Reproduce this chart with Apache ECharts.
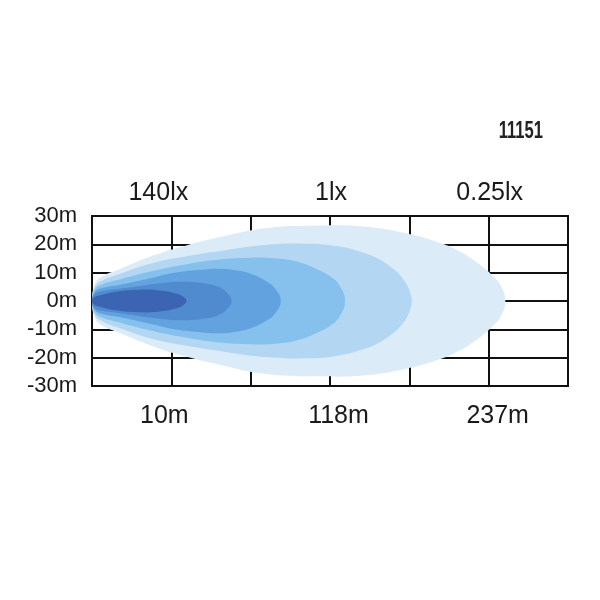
<!DOCTYPE html>
<html>
<head>
<meta charset="utf-8">
<script src="https://cdn.jsdelivr.net/npm/echarts@6/dist/echarts.min.js"></script>
<style>
  html, body { margin: 0; padding: 0; background: #fff; }
</style>
</head>
<body>
<div id="chart" style="width: 600px; height: 600px"></div>
<script>
// grid columns, labels on top (illuminance) and bottom (distance)
const columns = [0, 1, 2, 3, 4, 5, 6]
const topLabels = ['', '140lx', '', '1lx', '', '0.25lx', '']
const bottomLabels = ['', '10m', '', '118m', '', '237m', '']
const yTicks = [-30, -20, -10, 0, 10, 20, 30]
const lampCode = '11151'

// upper half of each isolux lobe: [column, lateral m], outermost first
const lobe1 = [[0, 0], [0.03, 5.4], [0.1, 8.2], [0.37, 11.5], [0.79, 16.2], [1.21, 19.8], [1.59, 22.4], [2.18, 25.7], [2.81, 26.6], [3.44, 26.2], [3.97, 23.8], [4.4, 20.4], [4.64, 17.4], [4.9, 12.6], [5.06, 8.6], [5.15, 5.6], [5.21, 0]]
const lobe2 = [[0, 0], [0.03, 4.6], [0.1, 6.8], [0.37, 9.8], [0.79, 13.6], [1.21, 15.9], [1.55, 17.4], [2.18, 19.8], [2.75, 20.2], [3.1, 19.3], [3.38, 17.4], [3.6, 15.0], [3.8, 11.3], [3.92, 7.8], [3.99, 4.5], [4.03, 0]]
const lobe3 = [[0, 0], [0.03, 3.8], [0.1, 5.6], [0.37, 7.8], [0.79, 10.8], [1.21, 13.1], [1.55, 14.5], [1.97, 15.3], [2.3, 15.1], [2.6, 13.8], [2.87, 10.8], [3.02, 8.4], [3.12, 5.5], [3.19, 0]]
const lobe4 = [[0, 0], [0.03, 3.0], [0.1, 4.3], [0.37, 5.8], [0.79, 8.4], [1.0, 9.8], [1.36, 11], [1.6, 11.4], [1.8, 10.9], [2.0, 9.6], [2.2, 6.9], [2.31, 4.3], [2.38, 0]]
const lobe5 = [[0, 0], [0.03, 2.4], [0.1, 3.3], [0.37, 4.4], [0.79, 6.0], [1.1, 6.8], [1.4, 6.3], [1.6, 4.9], [1.7, 2.9], [1.76, 0]]
const lobe6 = [[0, 0], [0.03, 1.3], [0.1, 2.0], [0.3, 3.3], [0.6, 4.0], [0.85, 3.7], [1.05, 2.7], [1.15, 1.5], [1.19, 0]]

const lobes = [lobe1, lobe2, lobe3, lobe4, lobe5, lobe6]
const lobeColors = ['#dbebf8', '#b3d6f3', '#86c1ed', '#62a2de', '#508bd0', '#3b64b3']

const chart = echarts.init(document.getElementById('chart'))

function lobeSeries(pts, color) {
  return {
    type: 'custom',
    coordinateSystem: 'cartesian2d',
    silent: true,
    data: [[0, 0]],
    renderItem: function (params, api) {
      // top half forward, mirrored bottom half back
      const outline = pts.concat(pts.slice(1, -1).reverse().map(function (p) { return [p[0], -p[1]] }))
      return {
        type: 'polygon',
        shape: {
          points: outline.map(function (p) { return api.coord(p) }),
          smooth: 0.45
        },
        style: { fill: color }
      }
    }
  }
}

const font = { fontFamily: 'Liberation Sans', fontSize: 25, color: '#1a1a1a' }
// small nudges so labels sit where the original has them
const topRich = {
  s1: Object.assign({ padding: [0, 26, 0, 0] }, font),
  s3: Object.assign({ padding: [0, 0, 0, 2] }, font),
  s5: Object.assign({ padding: [0, 0, 0, 2] }, font)
}
const bottomRich = {
  s1: Object.assign({ padding: [0, 14, 0, 0] }, font),
  s3: Object.assign({ padding: [0, 0, 0, 17] }, font),
  s5: Object.assign({ padding: [0, 0, 0, 18] }, font)
}

function tickText(labels) {
  return function (v) {
    return labels[v] ? '{s' + v + '|' + labels[v] + '}' : ''
  }
}

const option = {
  animation: false,
  grid: {
    left: 92,
    right: 32,
    top: 216,
    bottom: 214,
    show: true,
    borderColor: '#111',
    borderWidth: 2
  },
  graphic: [
    {
      type: 'text',
      x: 543,
      y: 120,
      scaleX: 0.72,
      silent: true,
      style: {
        text: lampCode,
        textAlign: 'right',
        textVerticalAlign: 'top',
        font: 'bold 23px "Liberation Sans"',
        fill: '#222'
      }
    }
  ],
  xAxis: [
    {
      type: 'value',
      position: 'bottom',
      min: columns[0],
      max: columns[columns.length - 1],
      interval: 1,
      axisLine: { show: false },
      axisTick: { show: false },
      splitLine: { show: true, lineStyle: { color: '#111', width: 2 } },
      axisLabel: Object.assign({ margin: 18, formatter: tickText(bottomLabels), rich: bottomRich }, font)
    },
    {
      type: 'value',
      position: 'top',
      min: columns[0],
      max: columns[columns.length - 1],
      interval: 1,
      axisLine: { show: false },
      axisTick: { show: false },
      splitLine: { show: false },
      axisLabel: Object.assign({ margin: 10, formatter: tickText(topLabels), rich: topRich }, font)
    }
  ],
  yAxis: {
    type: 'value',
    min: yTicks[0],
    max: yTicks[yTicks.length - 1],
    interval: 10,
    axisLine: { show: false },
    axisTick: { show: false },
    splitLine: { show: true, lineStyle: { color: '#111', width: 2 } },
    axisLabel: {
      margin: 15,
      color: '#1a1a1a',
      fontFamily: 'Liberation Sans',
      fontSize: 22,
      formatter: function (v) { return v + 'm' }
    }
  },
  series: lobes.map(function (pts, i) { return lobeSeries(pts, lobeColors[i]) })
}

chart.setOption(option)
</script>
</body>
</html>
